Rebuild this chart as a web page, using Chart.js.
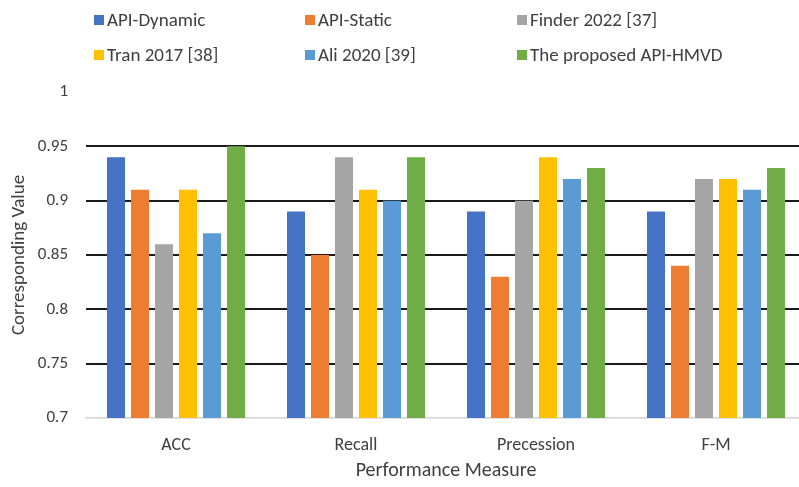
<!DOCTYPE html>
<html>
<head>
<meta charset="utf-8">
<script src="https://cdn.jsdelivr.net/npm/chart.js@4.4.1/dist/chart.umd.min.js"></script>
<style>
html,body{margin:0;padding:0;background:#fff;overflow:hidden;width:799px;height:487px;}
#wrap{width:812px;height:487px;}
</style>
</head>
<body>
<div id="wrap"><canvas id="c" width="812" height="487"></canvas></div>
<script>
const categories = ['ACC', 'Recall', 'Precession', 'F-M'];
const seriesNames = ['API-Dynamic', 'API-Static', 'Finder 2022 [37]', 'Tran 2017 [38]', 'Ali 2020 [39]', 'The proposed API-HMVD'];
const apiDynamic = [0.94, 0.89, 0.89, 0.89];
const apiStatic  = [0.91, 0.85, 0.83, 0.84];
const finder2022 = [0.86, 0.94, 0.90, 0.92];
const tran2017   = [0.91, 0.91, 0.94, 0.92];
const ali2020    = [0.87, 0.90, 0.92, 0.91];
const proposed   = [0.95, 0.94, 0.93, 0.93];
const yTickLabels = ['0.7', '0.75', '0.8', '0.85', '0.9', '0.95', '1'];
const colors = ['#4472C4', '#ED7D31', '#A5A5A5', '#FFC000', '#5B9BD5', '#70AD47'];

const FONT = 'Carlito, Calibri, Lato, sans-serif';
const seriesValues = [apiDynamic, apiStatic, finder2022, tran2017, ali2020, proposed];

const legendPlugin = {
  id: 'gridLegend',
  afterDraw(chart) {
    const ctx = chart.ctx;
    const cols = [94, 305, 517];
    const rows = [20, 55];
    ctx.save();
    ctx.font = '19px ' + FONT;
    ctx.textBaseline = 'middle';
    ctx.textAlign = 'left';
    chart.data.datasets.forEach((ds, i) => {
      const x = cols[i % 3], y = rows[Math.floor(i / 3)];
      ctx.fillStyle = ds.backgroundColor;
      ctx.fillRect(x, y - 5, 10, 10);
      ctx.fillStyle = '#404040';
      ctx.fillText(ds.label, x + 13, y + 1);
    });
    ctx.restore();
  }
};

new Chart(document.getElementById('c'), {
  type: 'bar',
  data: {
    labels: categories,
    datasets: seriesNames.map((n, i) => ({
      label: n,
      data: seriesValues[i],
      backgroundColor: colors[i],
      borderWidth: 0,
      categoryPercentage: 0.8,
      barPercentage: 0.75
    }))
  },
  options: {
    responsive: false,
    animation: false,
    layout: { padding: { top: 92, right: 6, left: 0, bottom: 0 } },
    plugins: { legend: { display: false }, tooltip: { enabled: false } },
    scales: {
      x: {
        grid: { display: false },
        border: { display: true, color: '#d9d9d9', width: 1.5 },
        ticks: { color: '#404040', font: { family: FONT, size: 18 }, padding: 9 },
        title: { display: true, text: 'Performance Measure', color: '#404040', font: { family: FONT, size: 20 }, padding: { top: 2, bottom: 4 } },
        afterFit(s) { s.height = 69; }
      },
      y: {
        min: 0.7, max: 1,
        border: { display: false },
        grid: {
          drawTicks: false,
          color(c) {
            const v = Math.round(c.tick.value * 100);
            if (v === 100) return 'rgba(0,0,0,0)';
            if (v === 70) return '#d9d9d9';
            return '#1a1a1a';
          },
          lineWidth(c) { return Math.round(c.tick.value * 100) === 70 ? 1.5 : 2; }
        },
        ticks: {
          stepSize: 0.05,
          padding: 18,
          color: '#404040',
          font: { family: FONT, size: 17 },
          callback(v, i) { return yTickLabels[i]; }
        },
        title: { display: true, text: 'Corresponding Value', color: '#404040', font: { family: FONT, size: 19 }, padding: { top: 8, bottom: 4 } },
        afterFit(s) { s.width = 86; }
      }
    }
  },
  plugins: [legendPlugin]
});
</script>
</body>
</html>
